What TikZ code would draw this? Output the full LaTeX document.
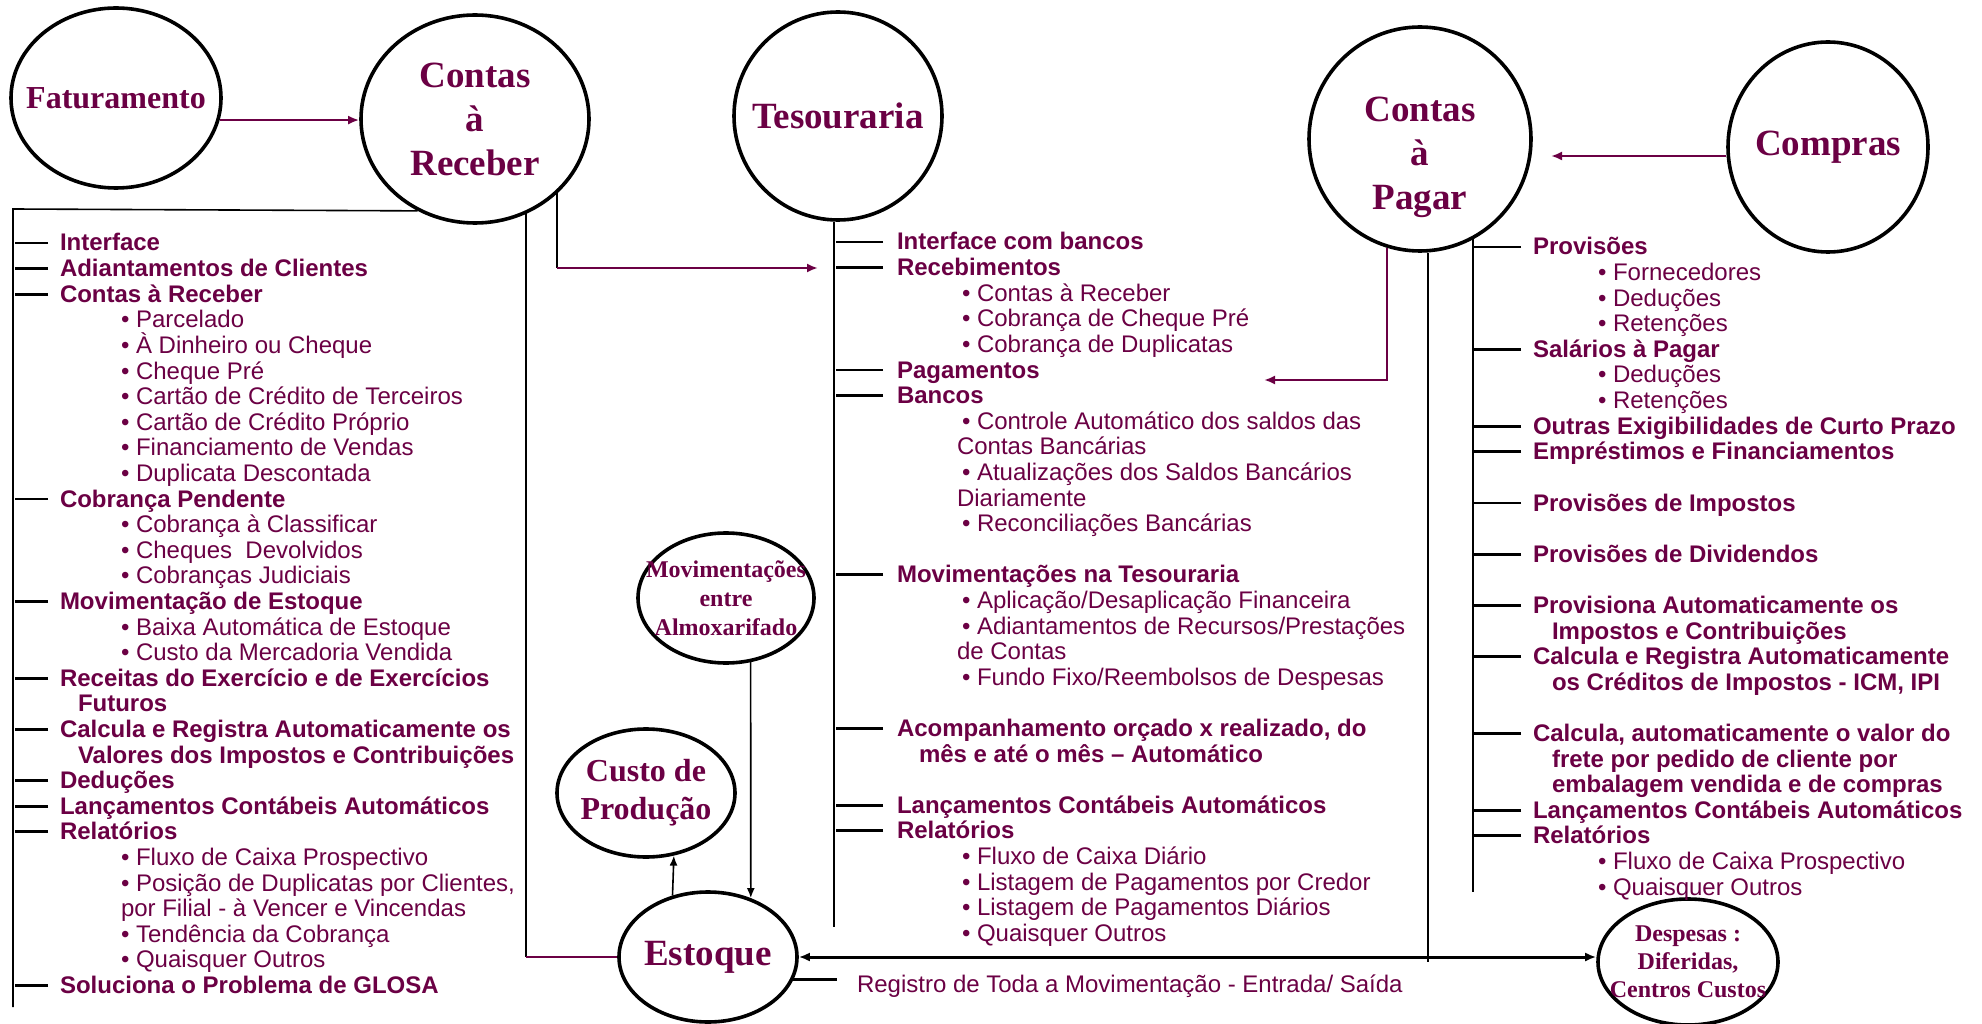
\documentclass[tikz,border=0pt]{standalone}
\usepackage{fontspec}
\setmainfont{Liberation Serif}
\setsansfont{Liberation Sans}
\usetikzlibrary{shapes.geometric,arrows.meta,positioning}
\definecolor{plum}{RGB}{107,0,68}

\begin{document}
\begin{tikzpicture}
  [x=1pt,y=-1pt,
  bubble/.style={ellipse,draw=black,line width=3.6pt,inner sep=-40pt,
                  align=center,text=plum},
  head/.style={anchor=base west,inner sep=0,outer sep=0,text=plum,
                  font=\sffamily\bfseries\fontsize{24}{26}\selectfont},
  sub/.style={anchor=base west,inner sep=0,outer sep=0,text=plum,
                  font=\sffamily\fontsize{24}{26}\selectfont},
  stub/.style={draw=black,line width=2.8pt},
  wire/.style={draw=black,line width=1.6pt},
  flow/.style={draw=plum,line width=2.6pt},
  pointed/.style={-{Latex[length=11pt,width=9pt]}}
                  ]
  \useasboundingbox[fill=white] (0,0) rectangle (1982,1024);

  % circles
  \node[bubble,minimum width=210pt,minimum height=180pt,
        font=\rmfamily\bfseries\fontsize{32}{38}\selectfont] (fatur) at (116,98) {Faturamento};
  \node[bubble,minimum width=228pt,minimum height=208pt,
        font=\rmfamily\bfseries\fontsize{37}{44}\selectfont] (crec) at (475,119) {Contas\\à\\Receber};
  \node[bubble,minimum width=208pt,minimum height=208pt,
        font=\rmfamily\bfseries\fontsize{37}{44}\selectfont] (tes) at (838,116) {Tesouraria};
  \node[bubble,minimum width=222pt,minimum height=224pt] (cpag) at (1420,139) {};
  \node[text=plum,align=center,inner sep=0,
        font=\rmfamily\bfseries\fontsize{37}{44}\selectfont] (cpagtext) at (1420,157) {Contas\\à\\Pagar};
  \node[bubble,minimum width=200pt,minimum height=210pt,
        font=\rmfamily\bfseries\fontsize{37}{44}\selectfont] (compras) at (1828,147) {Compras};
  \node[bubble,minimum width=176pt,minimum height=130pt,
        font=\rmfamily\bfseries\fontsize{24}{29}\selectfont] (movalm) at (726,598) {Movimentações\\entre\\Almoxarifado};
  \node[bubble,minimum width=178pt,minimum height=128pt,
        font=\rmfamily\bfseries\fontsize{32}{38}\selectfont] (custo) at (646,793) {Custo de\\Produção};
  \node[bubble,minimum width=178pt,minimum height=130pt,
        font=\rmfamily\bfseries\fontsize{37}{44}\selectfont] (estoque) at (708,957) {Estoque};
  \node[bubble,minimum width=180pt,minimum height=126pt,
        font=\rmfamily\bfseries\fontsize{24}{28}\selectfont] (desp) at (1688,962) {Despesas :\\Diferidas,\\Centros Custos};

  % contas a receber
  \node[head] (cr0) at (60,251) {Interface};
  \node[head] (cr1) at (60,276.6) {Adiantamentos de Clientes};
  \node[head] (cr2) at (60,302.2) {Contas à Receber};
  \node[sub] (cr3) at (121,327.8) {• Parcelado};
  \node[sub] (cr4) at (121,353.4) {• À Dinheiro ou Cheque};
  \node[sub] (cr5) at (121,379) {• Cheque Pré};
  \node[sub] (cr6) at (121,404.6) {• Cartão de Crédito de Terceiros};
  \node[sub] (cr7) at (121,430.2) {• Cartão de Crédito Próprio};
  \node[sub] (cr8) at (121,455.8) {• Financiamento de Vendas};
  \node[sub] (cr9) at (121,481.4) {• Duplicata Descontada};
  \node[head] (cr10) at (60,507) {Cobrança Pendente};
  \node[sub] (cr11) at (121,532.6) {• Cobrança à Classificar};
  \node[sub] (cr12) at (121,558.2) {• Cheques\ \ Devolvidos};
  \node[sub] (cr13) at (121,583.8) {• Cobranças Judiciais};
  \node[head] (cr14) at (60,609.4) {Movimentação de Estoque};
  \node[sub] (cr15) at (121,635) {• Baixa Automática de Estoque};
  \node[sub] (cr16) at (121,660.6) {• Custo da Mercadoria Vendida};
  \node[head] (cr17) at (60,686.2) {Receitas do Exercício e de Exercícios};
  \node[head] (cr18) at (78,711.8) {Futuros};
  \node[head] (cr19) at (60,737.4) {Calcula e Registra Automaticamente os};
  \node[head] (cr20) at (78,763) {Valores dos Impostos e Contribuições};
  \node[head] (cr21) at (60,788.6) {Deduções};
  \node[head] (cr22) at (60,814.2) {Lançamentos Contábeis Automáticos};
  \node[head] (cr23) at (60,839.8) {Relatórios};
  \node[sub] (cr24) at (121,865.4) {• Fluxo de Caixa Prospectivo};
  \node[sub] (cr25) at (121,891) {• Posição de Duplicatas por Clientes,};
  \node[sub] (cr26) at (121,916.6) {por Filial - à Vencer e Vincendas};
  \node[sub] (cr27) at (121,942.2) {• Tendência da Cobrança};
  \node[sub] (cr28) at (121,967.8) {• Quaisquer Outros};
  \node[head] (cr29) at (60,993.4) {Soluciona o Problema de GLOSA};

  % tesouraria
  \node[head] (te0) at (897,250) {Interface com bancos};
  \node[head] (te1) at (897,275.6) {Recebimentos};
  \node[sub] (te2) at (962,301.2) {• Contas à Receber};
  \node[sub] (te3) at (962,326.8) {• Cobrança de Cheque Pré};
  \node[sub] (te4) at (962,352.4) {• Cobrança de Duplicatas};
  \node[head] (te5) at (897,378) {Pagamentos};
  \node[head] (te6) at (897,403.6) {Bancos};
  \node[sub] (te7) at (962,429.2) {• Controle Automático dos saldos das};
  \node[sub] (te8) at (957,454.8) {Contas Bancárias};
  \node[sub] (te9) at (962,480.4) {• Atualizações dos Saldos Bancários};
  \node[sub] (te10) at (957,506) {Diariamente};
  \node[sub] (te11) at (962,531.6) {• Reconciliações Bancárias};
  \node[head] (te13) at (897,582.8) {Movimentações na Tesouraria};
  \node[sub] (te14) at (962,608.4) {• Aplicação/Desaplicação Financeira};
  \node[sub] (te15) at (962,634) {• Adiantamentos de Recursos/Prestações};
  \node[sub] (te16) at (957,659.6) {de Contas};
  \node[sub] (te17) at (962,685.2) {• Fundo Fixo/Reembolsos de Despesas};
  \node[head] (te19) at (897,736.4) {Acompanhamento orçado x realizado, do};
  \node[head] (te20) at (919,762) {mês e até o mês – Automático};
  \node[head] (te22) at (897,813.2) {Lançamentos Contábeis Automáticos};
  \node[head] (te23) at (897,838.8) {Relatórios};
  \node[sub] (te24) at (962,864.4) {• Fluxo de Caixa Diário};
  \node[sub] (te25) at (962,890) {• Listagem de Pagamentos por Credor};
  \node[sub] (te26) at (962,915.6) {• Listagem de Pagamentos Diários};
  \node[sub] (te27) at (962,941.2) {• Quaisquer Outros};

  % contas a pagar
  \node[head] (cp0) at (1533,255) {Provisões};
  \node[sub] (cp1) at (1598,280.6) {• Fornecedores};
  \node[sub] (cp2) at (1598,306.2) {• Deduções};
  \node[sub] (cp3) at (1598,331.8) {• Retenções};
  \node[head] (cp4) at (1533,357.4) {Salários à Pagar};
  \node[sub] (cp5) at (1598,383) {• Deduções};
  \node[sub] (cp6) at (1598,408.6) {• Retenções};
  \node[head] (cp7) at (1533,434.2) {Outras Exigibilidades de Curto Prazo};
  \node[head] (cp8) at (1533,459.8) {Empréstimos e Financiamentos};
  \node[head] (cp10) at (1533,511) {Provisões de Impostos};
  \node[head] (cp12) at (1533,562.2) {Provisões de Dividendos};
  \node[head] (cp14) at (1533,613.4) {Provisiona Automaticamente os};
  \node[head] (cp15) at (1552,639) {Impostos e Contribuições};
  \node[head] (cp16) at (1533,664.6) {Calcula e Registra Automaticamente};
  \node[head] (cp17) at (1552,690.2) {os Créditos de Impostos - ICM, IPI};
  \node[head] (cp19) at (1533,741.4) {Calcula, automaticamente o valor do};
  \node[head] (cp20) at (1552,767) {frete por pedido de cliente por};
  \node[head] (cp21) at (1552,792.6) {embalagem vendida e de compras};
  \node[head] (cp22) at (1533,818.2) {Lançamentos Contábeis Automáticos};
  \node[head] (cp23) at (1533,843.8) {Relatórios};
  \node[sub] (cp24) at (1598,869.4) {• Fluxo de Caixa Prospectivo};
  \node[sub] (cp25) at (1598,895) {• Quaisquer Outros};

  \node[sub] (reg) at (857,992) {Registro de Toda a Movimentação - Entrada/ Saída};

  % corners and ends of the lines
  \coordinate (boxtl) at (13,209);
  \coordinate (boxbl) at (13,1007);
  \coordinate (recest) at (526,957);
  \coordinate (rectes) at (557,268);
  \coordinate (tesbot) at (834,927);
  \coordinate (pagbend) at (1387,380);
  \coordinate (pagtip) at (1264,380);
  \coordinate (pagmid) at (1428,962);
  \coordinate (pagbot) at (1473,892);
  \coordinate (comptip) at (1551,156);

  \draw[flow,pointed] (fatur.-12) -- (fatur.-12 -| crec.west);
  \draw[wire] (crec.-122) -- (boxtl) -- (boxbl);
  \draw[wire] (recest |- crec.-61) -- (recest);
  \draw[flow] (recest) -- (estoque.west);
  \draw[wire] (rectes |- crec.-41) -- (rectes);
  \draw[flow,pointed,shorten >=16pt] (rectes) -- (rectes -| tesbot);
  \draw[wire] (tesbot |- tes.south) -- (tesbot);
  \draw[flow,pointed] (pagbend |- cpag.-107) -- (pagbend) -- (pagtip);
  \draw[wire] (pagmid |- cpag.south) -- (pagmid);
  \draw[wire] (pagbot |- cpag.-62) -- (pagbot);
  \draw[flow,pointed] (comptip -| compras.west) -- (comptip);
  \draw[wire,-{Latex[length=10pt,width=8pt]}] (movalm.-69) -- (estoque.54);
  \draw[wire,-{Latex[length=10pt,width=8pt]}] (estoque.120) -- (custo.-66);
  \draw[black,line width=3pt,{Latex[length=11pt,width=9pt]}-{Latex[length=11pt,width=9pt]}]
    (estoque.east) -- (estoque.east -| desp.west);
  \draw[stub,shorten >=20pt] (estoque.-15) -- (estoque.-15 -| reg.west);

  % stubs
  \draw[stub] (cr0.base west) ++(-12,-8) -- ++(-33,0);
  \draw[stub] (cr1.base west) ++(-12,-8) -- ++(-33,0);
  \draw[stub] (cr2.base west) ++(-12,-8) -- ++(-33,0);
  \draw[stub] (cr10.base west) ++(-12,-8) -- ++(-33,0);
  \draw[stub] (cr14.base west) ++(-12,-8) -- ++(-33,0);
  \draw[stub] (cr17.base west) ++(-12,-8) -- ++(-33,0);
  \draw[stub] (cr19.base west) ++(-12,-8) -- ++(-33,0);
  \draw[stub] (cr21.base west) ++(-12,-8) -- ++(-33,0);
  \draw[stub] (cr22.base west) ++(-12,-8) -- ++(-33,0);
  \draw[stub] (cr23.base west) ++(-12,-8) -- ++(-33,0);
  \draw[stub] (cr29.base west) ++(-12,-8) -- ++(-33,0);
  \draw[stub] (te0.base west) ++(-14,-8) -- ++(-47,0);
  \draw[stub] (te1.base west) ++(-14,-8) -- ++(-47,0);
  \draw[stub] (te5.base west) ++(-14,-8) -- ++(-47,0);
  \draw[stub] (te6.base west) ++(-14,-8) -- ++(-47,0);
  \draw[stub] (te13.base west) ++(-14,-8) -- ++(-47,0);
  \draw[stub] (te19.base west) ++(-14,-8) -- ++(-47,0);
  \draw[stub] (te22.base west) ++(-14,-8) -- ++(-47,0);
  \draw[stub] (te23.base west) ++(-14,-8) -- ++(-47,0);
  \draw[stub] (cp0.base west) ++(-12,-8) -- ++(-47,0);
  \draw[stub] (cp4.base west) ++(-12,-8) -- ++(-47,0);
  \draw[stub] (cp7.base west) ++(-12,-8) -- ++(-47,0);
  \draw[stub] (cp8.base west) ++(-12,-8) -- ++(-47,0);
  \draw[stub] (cp10.base west) ++(-12,-8) -- ++(-47,0);
  \draw[stub] (cp12.base west) ++(-12,-8) -- ++(-47,0);
  \draw[stub] (cp14.base west) ++(-12,-8) -- ++(-47,0);
  \draw[stub] (cp16.base west) ++(-12,-8) -- ++(-47,0);
  \draw[stub] (cp19.base west) ++(-12,-8) -- ++(-47,0);
  \draw[stub] (cp22.base west) ++(-12,-8) -- ++(-47,0);
  \draw[stub] (cp23.base west) ++(-12,-8) -- ++(-47,0);
\end{tikzpicture}
\end{document}
